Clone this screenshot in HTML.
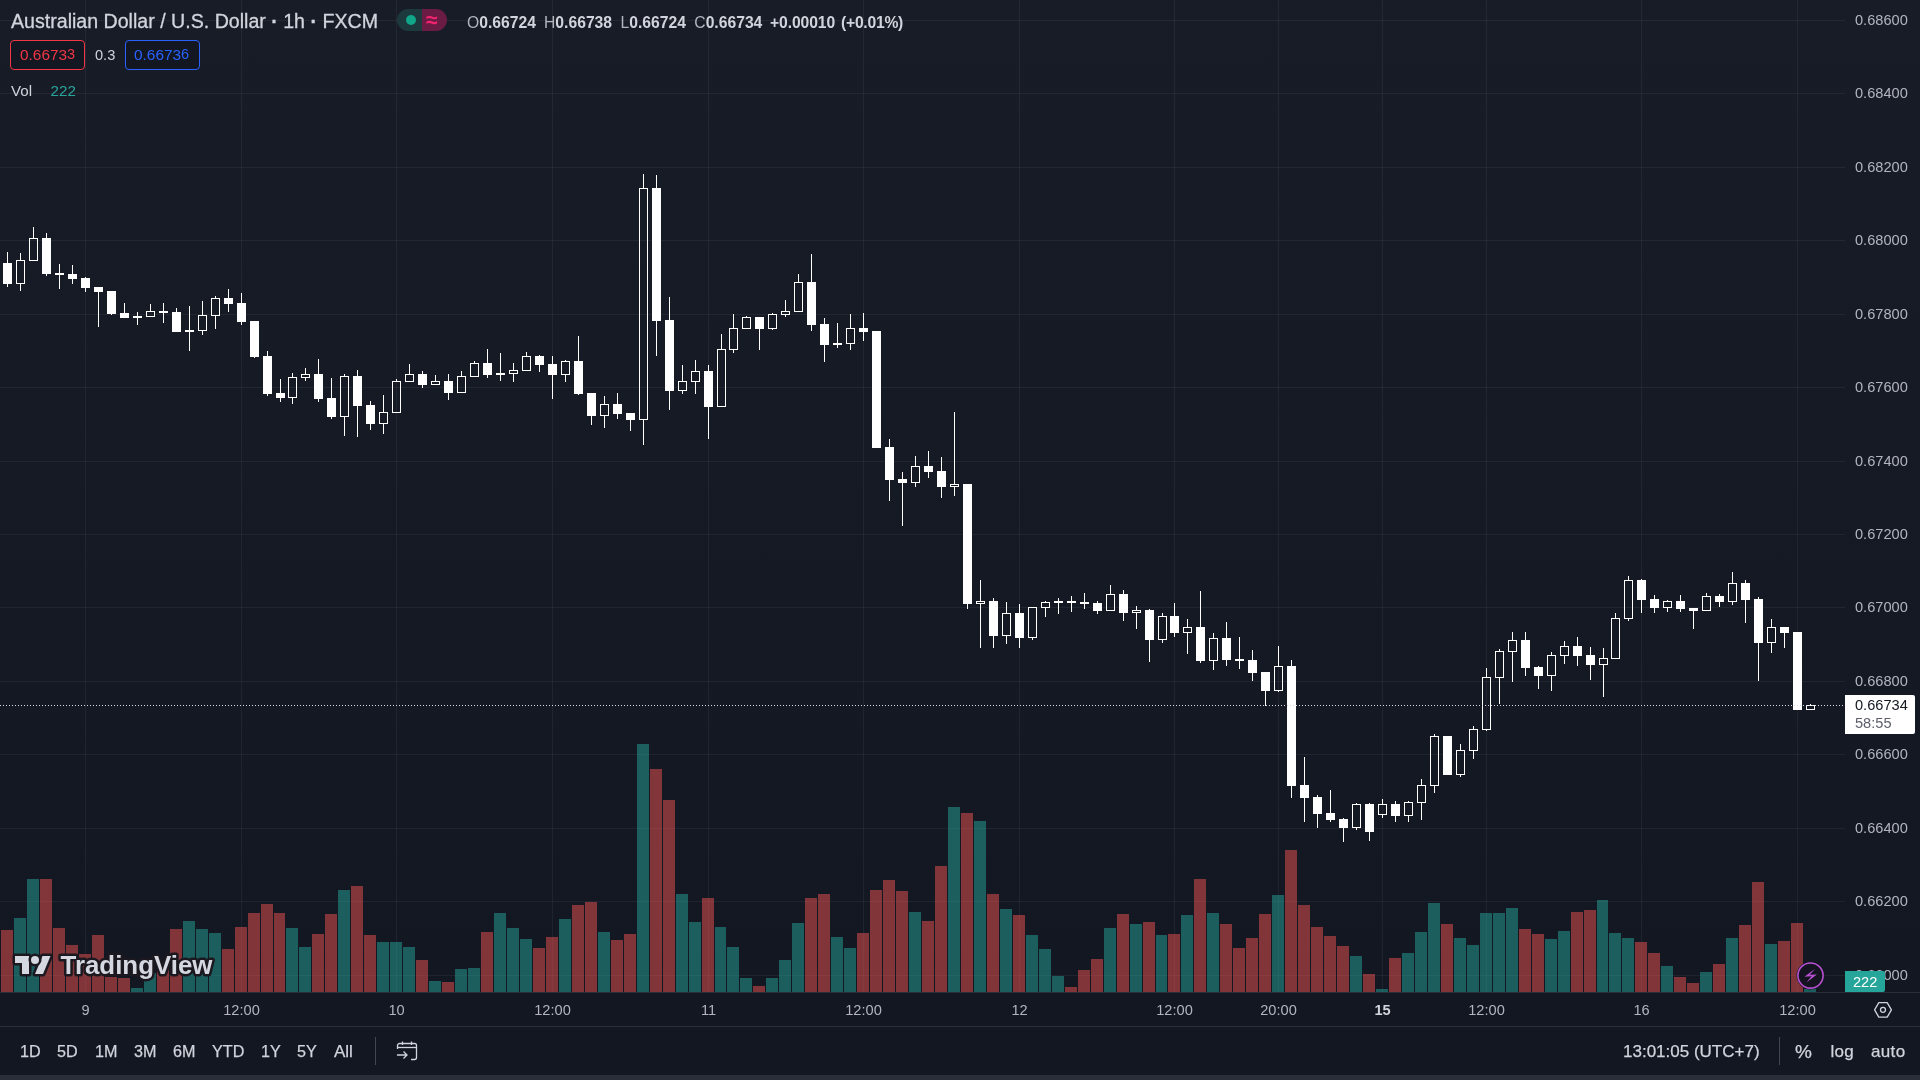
<!DOCTYPE html>
<html>
<head>
<meta charset="utf-8">
<title>AUDUSD chart</title>
<style>
html,body{margin:0;padding:0;}
body{width:1920px;height:1080px;overflow:hidden;background:#131722;font-family:"Liberation Sans",sans-serif;position:relative;color:#d1d4dc;}
.abs{position:absolute;white-space:nowrap;}
#pane{position:absolute;left:0;top:0;width:1920px;height:992px;background:linear-gradient(#181c27,#131722);}
#chart{position:absolute;left:0;top:0;}
.pl{position:absolute;left:1855px;font-size:14.6px;color:#b2b5be;line-height:16px;height:16px;}
.tl{position:absolute;top:1002px;font-size:14.6px;color:#b2b5be;line-height:16px;height:16px;transform:translateX(-50%);}
.tb{position:absolute;top:1042px;font-size:17px;color:#d1d4dc;line-height:20px;height:20px;-webkit-text-stroke:0.25px #d1d4dc;}
.tbl{transform:scaleX(0.95);transform-origin:left center;}
.oh{top:14px;font-size:15.7px;line-height:18px;color:#d1d4dc;font-weight:bold;}
.ol{color:#b2b5be;font-weight:normal;}
.sup{font-size:14.5px;position:relative;top:-1px;}
</style>
</head>
<body>
<div id="root" style="position:absolute;left:0;top:0;width:1920px;height:1080px;will-change:transform;">
<div id="pane">
<svg id="chart" width="1920" height="992" viewBox="0 0 1920 992" shape-rendering="crispEdges">
<rect x="0" y="20" width="1845" height="1" fill="#f0f3fa" fill-opacity="0.06"/>
<rect x="0" y="93" width="1845" height="1" fill="#f0f3fa" fill-opacity="0.06"/>
<rect x="0" y="167" width="1845" height="1" fill="#f0f3fa" fill-opacity="0.06"/>
<rect x="0" y="240" width="1845" height="1" fill="#f0f3fa" fill-opacity="0.06"/>
<rect x="0" y="314" width="1845" height="1" fill="#f0f3fa" fill-opacity="0.06"/>
<rect x="0" y="387" width="1845" height="1" fill="#f0f3fa" fill-opacity="0.06"/>
<rect x="0" y="461" width="1845" height="1" fill="#f0f3fa" fill-opacity="0.06"/>
<rect x="0" y="534" width="1845" height="1" fill="#f0f3fa" fill-opacity="0.06"/>
<rect x="0" y="607" width="1845" height="1" fill="#f0f3fa" fill-opacity="0.06"/>
<rect x="0" y="681" width="1845" height="1" fill="#f0f3fa" fill-opacity="0.06"/>
<rect x="0" y="754" width="1845" height="1" fill="#f0f3fa" fill-opacity="0.06"/>
<rect x="0" y="828" width="1845" height="1" fill="#f0f3fa" fill-opacity="0.06"/>
<rect x="0" y="901" width="1845" height="1" fill="#f0f3fa" fill-opacity="0.06"/>
<rect x="0" y="975" width="1845" height="1" fill="#f0f3fa" fill-opacity="0.06"/>
<rect x="85" y="0" width="1" height="992" fill="#f0f3fa" fill-opacity="0.06"/>
<rect x="241" y="0" width="1" height="992" fill="#f0f3fa" fill-opacity="0.06"/>
<rect x="396" y="0" width="1" height="992" fill="#f0f3fa" fill-opacity="0.06"/>
<rect x="552" y="0" width="1" height="992" fill="#f0f3fa" fill-opacity="0.06"/>
<rect x="708" y="0" width="1" height="992" fill="#f0f3fa" fill-opacity="0.06"/>
<rect x="863" y="0" width="1" height="992" fill="#f0f3fa" fill-opacity="0.06"/>
<rect x="1019" y="0" width="1" height="992" fill="#f0f3fa" fill-opacity="0.06"/>
<rect x="1174" y="0" width="1" height="992" fill="#f0f3fa" fill-opacity="0.06"/>
<rect x="1278" y="0" width="1" height="992" fill="#f0f3fa" fill-opacity="0.06"/>
<rect x="1382" y="0" width="1" height="992" fill="#f0f3fa" fill-opacity="0.06"/>
<rect x="1486" y="0" width="1" height="992" fill="#f0f3fa" fill-opacity="0.06"/>
<rect x="1641" y="0" width="1" height="992" fill="#f0f3fa" fill-opacity="0.06"/>
<rect x="1797" y="0" width="1" height="992" fill="#f0f3fa" fill-opacity="0.06"/>
<rect x="1" y="930" width="12" height="62" fill="rgba(239,83,80,0.5)"/>
<rect x="14" y="918" width="12" height="74" fill="rgba(38,166,154,0.5)"/>
<rect x="27" y="879" width="12" height="113" fill="rgba(38,166,154,0.5)"/>
<rect x="40" y="879" width="12" height="113" fill="rgba(239,83,80,0.5)"/>
<rect x="53" y="928" width="12" height="64" fill="rgba(239,83,80,0.5)"/>
<rect x="66" y="945" width="12" height="47" fill="rgba(239,83,80,0.5)"/>
<rect x="79" y="954" width="12" height="38" fill="rgba(239,83,80,0.5)"/>
<rect x="92" y="935" width="12" height="57" fill="rgba(239,83,80,0.5)"/>
<rect x="105" y="977" width="12" height="15" fill="rgba(239,83,80,0.5)"/>
<rect x="118" y="978" width="12" height="14" fill="rgba(239,83,80,0.5)"/>
<rect x="131" y="988" width="12" height="4" fill="rgba(38,166,154,0.5)"/>
<rect x="144" y="973" width="12" height="19" fill="rgba(38,166,154,0.5)"/>
<rect x="157" y="965" width="12" height="27" fill="rgba(239,83,80,0.5)"/>
<rect x="170" y="929" width="12" height="63" fill="rgba(239,83,80,0.5)"/>
<rect x="183" y="921" width="12" height="71" fill="rgba(38,166,154,0.5)"/>
<rect x="196" y="929" width="12" height="63" fill="rgba(38,166,154,0.5)"/>
<rect x="209" y="933" width="12" height="59" fill="rgba(38,166,154,0.5)"/>
<rect x="222" y="949" width="12" height="43" fill="rgba(239,83,80,0.5)"/>
<rect x="235" y="927" width="12" height="65" fill="rgba(239,83,80,0.5)"/>
<rect x="248" y="913" width="12" height="79" fill="rgba(239,83,80,0.5)"/>
<rect x="261" y="904" width="12" height="88" fill="rgba(239,83,80,0.5)"/>
<rect x="274" y="913" width="11" height="79" fill="rgba(239,83,80,0.5)"/>
<rect x="286" y="928" width="12" height="64" fill="rgba(38,166,154,0.5)"/>
<rect x="299" y="947" width="12" height="45" fill="rgba(38,166,154,0.5)"/>
<rect x="312" y="934" width="12" height="58" fill="rgba(239,83,80,0.5)"/>
<rect x="325" y="914" width="12" height="78" fill="rgba(239,83,80,0.5)"/>
<rect x="338" y="890" width="12" height="102" fill="rgba(38,166,154,0.5)"/>
<rect x="351" y="886" width="12" height="106" fill="rgba(239,83,80,0.5)"/>
<rect x="364" y="935" width="12" height="57" fill="rgba(239,83,80,0.5)"/>
<rect x="377" y="942" width="12" height="50" fill="rgba(38,166,154,0.5)"/>
<rect x="390" y="942" width="12" height="50" fill="rgba(38,166,154,0.5)"/>
<rect x="403" y="947" width="12" height="45" fill="rgba(38,166,154,0.5)"/>
<rect x="416" y="960" width="12" height="32" fill="rgba(239,83,80,0.5)"/>
<rect x="429" y="981" width="12" height="11" fill="rgba(38,166,154,0.5)"/>
<rect x="442" y="982" width="12" height="10" fill="rgba(239,83,80,0.5)"/>
<rect x="455" y="969" width="12" height="23" fill="rgba(38,166,154,0.5)"/>
<rect x="468" y="968" width="12" height="24" fill="rgba(38,166,154,0.5)"/>
<rect x="481" y="932" width="12" height="60" fill="rgba(239,83,80,0.5)"/>
<rect x="494" y="913" width="12" height="79" fill="rgba(38,166,154,0.5)"/>
<rect x="507" y="928" width="12" height="64" fill="rgba(38,166,154,0.5)"/>
<rect x="520" y="939" width="12" height="53" fill="rgba(38,166,154,0.5)"/>
<rect x="533" y="948" width="12" height="44" fill="rgba(239,83,80,0.5)"/>
<rect x="546" y="937" width="12" height="55" fill="rgba(239,83,80,0.5)"/>
<rect x="559" y="919" width="12" height="73" fill="rgba(38,166,154,0.5)"/>
<rect x="572" y="905" width="12" height="87" fill="rgba(239,83,80,0.5)"/>
<rect x="585" y="902" width="12" height="90" fill="rgba(239,83,80,0.5)"/>
<rect x="598" y="932" width="12" height="60" fill="rgba(38,166,154,0.5)"/>
<rect x="611" y="940" width="12" height="52" fill="rgba(239,83,80,0.5)"/>
<rect x="624" y="934" width="12" height="58" fill="rgba(239,83,80,0.5)"/>
<rect x="637" y="744" width="12" height="248" fill="rgba(38,166,154,0.5)"/>
<rect x="650" y="769" width="12" height="223" fill="rgba(239,83,80,0.5)"/>
<rect x="663" y="800" width="12" height="192" fill="rgba(239,83,80,0.5)"/>
<rect x="676" y="894" width="12" height="98" fill="rgba(38,166,154,0.5)"/>
<rect x="689" y="922" width="12" height="70" fill="rgba(38,166,154,0.5)"/>
<rect x="702" y="898" width="12" height="94" fill="rgba(239,83,80,0.5)"/>
<rect x="715" y="927" width="11" height="65" fill="rgba(38,166,154,0.5)"/>
<rect x="727" y="947" width="12" height="45" fill="rgba(38,166,154,0.5)"/>
<rect x="740" y="978" width="12" height="14" fill="rgba(38,166,154,0.5)"/>
<rect x="753" y="986" width="12" height="6" fill="rgba(239,83,80,0.5)"/>
<rect x="766" y="978" width="12" height="14" fill="rgba(38,166,154,0.5)"/>
<rect x="779" y="960" width="12" height="32" fill="rgba(38,166,154,0.5)"/>
<rect x="792" y="923" width="12" height="69" fill="rgba(38,166,154,0.5)"/>
<rect x="805" y="898" width="12" height="94" fill="rgba(239,83,80,0.5)"/>
<rect x="818" y="894" width="12" height="98" fill="rgba(239,83,80,0.5)"/>
<rect x="831" y="937" width="12" height="55" fill="rgba(38,166,154,0.5)"/>
<rect x="844" y="948" width="12" height="44" fill="rgba(38,166,154,0.5)"/>
<rect x="857" y="933" width="12" height="59" fill="rgba(239,83,80,0.5)"/>
<rect x="870" y="890" width="12" height="102" fill="rgba(239,83,80,0.5)"/>
<rect x="883" y="880" width="12" height="112" fill="rgba(239,83,80,0.5)"/>
<rect x="896" y="891" width="12" height="101" fill="rgba(239,83,80,0.5)"/>
<rect x="909" y="912" width="12" height="80" fill="rgba(38,166,154,0.5)"/>
<rect x="922" y="921" width="12" height="71" fill="rgba(239,83,80,0.5)"/>
<rect x="935" y="866" width="12" height="126" fill="rgba(239,83,80,0.5)"/>
<rect x="948" y="807" width="12" height="185" fill="rgba(38,166,154,0.5)"/>
<rect x="961" y="813" width="12" height="179" fill="rgba(239,83,80,0.5)"/>
<rect x="974" y="821" width="12" height="171" fill="rgba(38,166,154,0.5)"/>
<rect x="987" y="894" width="12" height="98" fill="rgba(239,83,80,0.5)"/>
<rect x="1000" y="909" width="12" height="83" fill="rgba(38,166,154,0.5)"/>
<rect x="1013" y="915" width="12" height="77" fill="rgba(239,83,80,0.5)"/>
<rect x="1026" y="935" width="12" height="57" fill="rgba(38,166,154,0.5)"/>
<rect x="1039" y="949" width="12" height="43" fill="rgba(38,166,154,0.5)"/>
<rect x="1052" y="976" width="12" height="16" fill="rgba(38,166,154,0.5)"/>
<rect x="1065" y="987" width="12" height="5" fill="rgba(239,83,80,0.5)"/>
<rect x="1078" y="970" width="12" height="22" fill="rgba(239,83,80,0.5)"/>
<rect x="1091" y="959" width="12" height="33" fill="rgba(239,83,80,0.5)"/>
<rect x="1104" y="928" width="12" height="64" fill="rgba(38,166,154,0.5)"/>
<rect x="1117" y="914" width="12" height="78" fill="rgba(239,83,80,0.5)"/>
<rect x="1130" y="924" width="12" height="68" fill="rgba(38,166,154,0.5)"/>
<rect x="1143" y="922" width="12" height="70" fill="rgba(239,83,80,0.5)"/>
<rect x="1156" y="935" width="11" height="57" fill="rgba(38,166,154,0.5)"/>
<rect x="1168" y="934" width="12" height="58" fill="rgba(239,83,80,0.5)"/>
<rect x="1181" y="915" width="12" height="77" fill="rgba(38,166,154,0.5)"/>
<rect x="1194" y="879" width="12" height="113" fill="rgba(239,83,80,0.5)"/>
<rect x="1207" y="913" width="12" height="79" fill="rgba(38,166,154,0.5)"/>
<rect x="1220" y="924" width="12" height="68" fill="rgba(239,83,80,0.5)"/>
<rect x="1233" y="948" width="12" height="44" fill="rgba(239,83,80,0.5)"/>
<rect x="1246" y="938" width="12" height="54" fill="rgba(239,83,80,0.5)"/>
<rect x="1259" y="914" width="12" height="78" fill="rgba(239,83,80,0.5)"/>
<rect x="1272" y="895" width="12" height="97" fill="rgba(38,166,154,0.5)"/>
<rect x="1285" y="850" width="12" height="142" fill="rgba(239,83,80,0.5)"/>
<rect x="1298" y="905" width="12" height="87" fill="rgba(239,83,80,0.5)"/>
<rect x="1311" y="927" width="12" height="65" fill="rgba(239,83,80,0.5)"/>
<rect x="1324" y="936" width="12" height="56" fill="rgba(239,83,80,0.5)"/>
<rect x="1337" y="946" width="12" height="46" fill="rgba(239,83,80,0.5)"/>
<rect x="1350" y="956" width="12" height="36" fill="rgba(38,166,154,0.5)"/>
<rect x="1363" y="974" width="12" height="18" fill="rgba(239,83,80,0.5)"/>
<rect x="1376" y="989" width="12" height="3" fill="rgba(38,166,154,0.5)"/>
<rect x="1389" y="958" width="12" height="34" fill="rgba(239,83,80,0.5)"/>
<rect x="1402" y="953" width="12" height="39" fill="rgba(38,166,154,0.5)"/>
<rect x="1415" y="932" width="12" height="60" fill="rgba(38,166,154,0.5)"/>
<rect x="1428" y="903" width="12" height="89" fill="rgba(38,166,154,0.5)"/>
<rect x="1441" y="924" width="12" height="68" fill="rgba(239,83,80,0.5)"/>
<rect x="1454" y="938" width="12" height="54" fill="rgba(38,166,154,0.5)"/>
<rect x="1467" y="945" width="12" height="47" fill="rgba(38,166,154,0.5)"/>
<rect x="1480" y="913" width="12" height="79" fill="rgba(38,166,154,0.5)"/>
<rect x="1493" y="913" width="12" height="79" fill="rgba(38,166,154,0.5)"/>
<rect x="1506" y="908" width="12" height="84" fill="rgba(38,166,154,0.5)"/>
<rect x="1519" y="929" width="12" height="63" fill="rgba(239,83,80,0.5)"/>
<rect x="1532" y="934" width="12" height="58" fill="rgba(239,83,80,0.5)"/>
<rect x="1545" y="939" width="12" height="53" fill="rgba(38,166,154,0.5)"/>
<rect x="1558" y="931" width="12" height="61" fill="rgba(38,166,154,0.5)"/>
<rect x="1571" y="912" width="12" height="80" fill="rgba(239,83,80,0.5)"/>
<rect x="1584" y="910" width="12" height="82" fill="rgba(239,83,80,0.5)"/>
<rect x="1597" y="900" width="11" height="92" fill="rgba(38,166,154,0.5)"/>
<rect x="1609" y="933" width="12" height="59" fill="rgba(38,166,154,0.5)"/>
<rect x="1622" y="938" width="12" height="54" fill="rgba(38,166,154,0.5)"/>
<rect x="1635" y="942" width="12" height="50" fill="rgba(239,83,80,0.5)"/>
<rect x="1648" y="953" width="12" height="39" fill="rgba(239,83,80,0.5)"/>
<rect x="1661" y="966" width="12" height="26" fill="rgba(38,166,154,0.5)"/>
<rect x="1674" y="977" width="12" height="15" fill="rgba(239,83,80,0.5)"/>
<rect x="1687" y="983" width="12" height="9" fill="rgba(239,83,80,0.5)"/>
<rect x="1700" y="972" width="12" height="20" fill="rgba(38,166,154,0.5)"/>
<rect x="1713" y="964" width="12" height="28" fill="rgba(239,83,80,0.5)"/>
<rect x="1726" y="938" width="12" height="54" fill="rgba(38,166,154,0.5)"/>
<rect x="1739" y="925" width="12" height="67" fill="rgba(239,83,80,0.5)"/>
<rect x="1752" y="882" width="12" height="110" fill="rgba(239,83,80,0.5)"/>
<rect x="1765" y="944" width="12" height="48" fill="rgba(38,166,154,0.5)"/>
<rect x="1778" y="941" width="12" height="51" fill="rgba(239,83,80,0.5)"/>
<rect x="1791" y="923" width="12" height="69" fill="rgba(239,83,80,0.5)"/>
<rect x="1804" y="989" width="12" height="3" fill="rgba(38,166,154,0.5)"/>
<rect x="7" y="252" width="1" height="35" fill="#fff"/>
<rect x="3" y="263" width="9" height="21" fill="#fff"/>
<rect x="20" y="253" width="1" height="7" fill="#fff"/>
<rect x="20" y="284" width="1" height="7" fill="#fff"/>
<rect x="16.5" y="260.5" width="8" height="23" fill="none" stroke="#fff" stroke-width="1"/>
<rect x="33" y="227" width="1" height="11" fill="#fff"/>
<rect x="29.5" y="238.5" width="8" height="22" fill="none" stroke="#fff" stroke-width="1"/>
<rect x="46" y="233" width="1" height="43" fill="#fff"/>
<rect x="42" y="238" width="9" height="36" fill="#fff"/>
<rect x="59" y="264" width="1" height="25" fill="#fff"/>
<rect x="55" y="273" width="9" height="2" fill="#fff"/>
<rect x="72" y="265" width="1" height="19" fill="#fff"/>
<rect x="68" y="274" width="9" height="5" fill="#fff"/>
<rect x="85" y="277" width="1" height="15" fill="#fff"/>
<rect x="81" y="278" width="9" height="10" fill="#fff"/>
<rect x="98" y="287" width="1" height="40" fill="#fff"/>
<rect x="94" y="287" width="9" height="5" fill="#fff"/>
<rect x="111" y="291" width="1" height="24" fill="#fff"/>
<rect x="107" y="291" width="9" height="23" fill="#fff"/>
<rect x="124" y="303" width="1" height="15" fill="#fff"/>
<rect x="120" y="313" width="9" height="5" fill="#fff"/>
<rect x="137" y="312" width="1" height="13" fill="#fff"/>
<rect x="133" y="316" width="9" height="2" fill="#fff"/>
<rect x="150" y="304" width="1" height="7" fill="#fff"/>
<rect x="146.5" y="311.5" width="8" height="5" fill="none" stroke="#fff" stroke-width="1"/>
<rect x="163" y="303" width="1" height="20" fill="#fff"/>
<rect x="159" y="311" width="9" height="2" fill="#fff"/>
<rect x="176" y="308" width="1" height="24" fill="#fff"/>
<rect x="172" y="312" width="9" height="20" fill="#fff"/>
<rect x="189" y="306" width="1" height="45" fill="#fff"/>
<rect x="185" y="330" width="9" height="2" fill="#fff"/>
<rect x="202" y="301" width="1" height="14" fill="#fff"/>
<rect x="202" y="331" width="1" height="4" fill="#fff"/>
<rect x="198.5" y="315.5" width="8" height="15" fill="none" stroke="#fff" stroke-width="1"/>
<rect x="215" y="296" width="1" height="2" fill="#fff"/>
<rect x="215" y="316" width="1" height="13" fill="#fff"/>
<rect x="211.5" y="298.5" width="8" height="17" fill="none" stroke="#fff" stroke-width="1"/>
<rect x="228" y="289" width="1" height="23" fill="#fff"/>
<rect x="224" y="298" width="9" height="6" fill="#fff"/>
<rect x="241" y="293" width="1" height="32" fill="#fff"/>
<rect x="237" y="303" width="9" height="19" fill="#fff"/>
<rect x="254" y="321" width="1" height="37" fill="#fff"/>
<rect x="250" y="321" width="9" height="36" fill="#fff"/>
<rect x="267" y="351" width="1" height="45" fill="#fff"/>
<rect x="263" y="356" width="9" height="38" fill="#fff"/>
<rect x="280" y="379" width="1" height="23" fill="#fff"/>
<rect x="276" y="393" width="9" height="5" fill="#fff"/>
<rect x="292" y="373" width="1" height="4" fill="#fff"/>
<rect x="292" y="398" width="1" height="6" fill="#fff"/>
<rect x="288.5" y="377.5" width="8" height="20" fill="none" stroke="#fff" stroke-width="1"/>
<rect x="305" y="368" width="1" height="6" fill="#fff"/>
<rect x="305" y="378" width="1" height="3" fill="#fff"/>
<rect x="301.5" y="374.5" width="8" height="3" fill="none" stroke="#fff" stroke-width="1"/>
<rect x="318" y="359" width="1" height="43" fill="#fff"/>
<rect x="314" y="374" width="9" height="25" fill="#fff"/>
<rect x="331" y="378" width="1" height="41" fill="#fff"/>
<rect x="327" y="398" width="9" height="19" fill="#fff"/>
<rect x="344" y="374" width="1" height="2" fill="#fff"/>
<rect x="344" y="417" width="1" height="19" fill="#fff"/>
<rect x="340.5" y="376.5" width="8" height="40" fill="none" stroke="#fff" stroke-width="1"/>
<rect x="357" y="370" width="1" height="67" fill="#fff"/>
<rect x="353" y="376" width="9" height="30" fill="#fff"/>
<rect x="370" y="401" width="1" height="29" fill="#fff"/>
<rect x="366" y="405" width="9" height="19" fill="#fff"/>
<rect x="383" y="395" width="1" height="17" fill="#fff"/>
<rect x="383" y="424" width="1" height="10" fill="#fff"/>
<rect x="379.5" y="412.5" width="8" height="11" fill="none" stroke="#fff" stroke-width="1"/>
<rect x="396" y="379" width="1" height="2" fill="#fff"/>
<rect x="392.5" y="381.5" width="8" height="31" fill="none" stroke="#fff" stroke-width="1"/>
<rect x="409" y="364" width="1" height="10" fill="#fff"/>
<rect x="405.5" y="374.5" width="8" height="7" fill="none" stroke="#fff" stroke-width="1"/>
<rect x="422" y="371" width="1" height="17" fill="#fff"/>
<rect x="418" y="374" width="9" height="11" fill="#fff"/>
<rect x="435" y="375" width="1" height="6" fill="#fff"/>
<rect x="431.5" y="381.5" width="8" height="3" fill="none" stroke="#fff" stroke-width="1"/>
<rect x="448" y="374" width="1" height="26" fill="#fff"/>
<rect x="444" y="381" width="9" height="12" fill="#fff"/>
<rect x="461" y="371" width="1" height="5" fill="#fff"/>
<rect x="457.5" y="376.5" width="8" height="16" fill="none" stroke="#fff" stroke-width="1"/>
<rect x="474" y="361" width="1" height="2" fill="#fff"/>
<rect x="470.5" y="363.5" width="8" height="13" fill="none" stroke="#fff" stroke-width="1"/>
<rect x="487" y="349" width="1" height="29" fill="#fff"/>
<rect x="483" y="363" width="9" height="12" fill="#fff"/>
<rect x="500" y="353" width="1" height="28" fill="#fff"/>
<rect x="496" y="373" width="9" height="2" fill="#fff"/>
<rect x="513" y="363" width="1" height="7" fill="#fff"/>
<rect x="513" y="374" width="1" height="8" fill="#fff"/>
<rect x="509.5" y="370.5" width="8" height="3" fill="none" stroke="#fff" stroke-width="1"/>
<rect x="526" y="352" width="1" height="4" fill="#fff"/>
<rect x="522.5" y="356.5" width="8" height="14" fill="none" stroke="#fff" stroke-width="1"/>
<rect x="539" y="355" width="1" height="17" fill="#fff"/>
<rect x="535" y="356" width="9" height="9" fill="#fff"/>
<rect x="552" y="356" width="1" height="43" fill="#fff"/>
<rect x="548" y="364" width="9" height="11" fill="#fff"/>
<rect x="565" y="360" width="1" height="1" fill="#fff"/>
<rect x="565" y="375" width="1" height="7" fill="#fff"/>
<rect x="561.5" y="361.5" width="8" height="13" fill="none" stroke="#fff" stroke-width="1"/>
<rect x="578" y="336" width="1" height="59" fill="#fff"/>
<rect x="574" y="361" width="9" height="33" fill="#fff"/>
<rect x="591" y="393" width="1" height="32" fill="#fff"/>
<rect x="587" y="393" width="9" height="23" fill="#fff"/>
<rect x="604" y="396" width="1" height="8" fill="#fff"/>
<rect x="604" y="416" width="1" height="12" fill="#fff"/>
<rect x="600.5" y="404.5" width="8" height="11" fill="none" stroke="#fff" stroke-width="1"/>
<rect x="617" y="393" width="1" height="26" fill="#fff"/>
<rect x="613" y="404" width="9" height="10" fill="#fff"/>
<rect x="630" y="413" width="1" height="18" fill="#fff"/>
<rect x="626" y="413" width="9" height="7" fill="#fff"/>
<rect x="643" y="174" width="1" height="14" fill="#fff"/>
<rect x="643" y="420" width="1" height="25" fill="#fff"/>
<rect x="639.5" y="188.5" width="8" height="231" fill="none" stroke="#fff" stroke-width="1"/>
<rect x="656" y="175" width="1" height="181" fill="#fff"/>
<rect x="652" y="188" width="9" height="133" fill="#fff"/>
<rect x="669" y="297" width="1" height="113" fill="#fff"/>
<rect x="665" y="320" width="9" height="71" fill="#fff"/>
<rect x="682" y="365" width="1" height="16" fill="#fff"/>
<rect x="682" y="391" width="1" height="3" fill="#fff"/>
<rect x="678.5" y="381.5" width="8" height="9" fill="none" stroke="#fff" stroke-width="1"/>
<rect x="695" y="360" width="1" height="11" fill="#fff"/>
<rect x="695" y="382" width="1" height="12" fill="#fff"/>
<rect x="691.5" y="371.5" width="8" height="10" fill="none" stroke="#fff" stroke-width="1"/>
<rect x="708" y="365" width="1" height="74" fill="#fff"/>
<rect x="704" y="371" width="9" height="36" fill="#fff"/>
<rect x="721" y="334" width="1" height="15" fill="#fff"/>
<rect x="717.5" y="349.5" width="8" height="57" fill="none" stroke="#fff" stroke-width="1"/>
<rect x="733" y="314" width="1" height="14" fill="#fff"/>
<rect x="733" y="350" width="1" height="3" fill="#fff"/>
<rect x="729.5" y="328.5" width="8" height="21" fill="none" stroke="#fff" stroke-width="1"/>
<rect x="746" y="316" width="1" height="1" fill="#fff"/>
<rect x="742.5" y="317.5" width="8" height="11" fill="none" stroke="#fff" stroke-width="1"/>
<rect x="759" y="317" width="1" height="33" fill="#fff"/>
<rect x="755" y="317" width="9" height="12" fill="#fff"/>
<rect x="772" y="313" width="1" height="1" fill="#fff"/>
<rect x="772" y="329" width="1" height="1" fill="#fff"/>
<rect x="768.5" y="314.5" width="8" height="14" fill="none" stroke="#fff" stroke-width="1"/>
<rect x="785" y="300" width="1" height="11" fill="#fff"/>
<rect x="785" y="315" width="1" height="2" fill="#fff"/>
<rect x="781.5" y="311.5" width="8" height="3" fill="none" stroke="#fff" stroke-width="1"/>
<rect x="798" y="274" width="1" height="8" fill="#fff"/>
<rect x="794.5" y="282.5" width="8" height="29" fill="none" stroke="#fff" stroke-width="1"/>
<rect x="811" y="254" width="1" height="77" fill="#fff"/>
<rect x="807" y="282" width="9" height="43" fill="#fff"/>
<rect x="824" y="318" width="1" height="44" fill="#fff"/>
<rect x="820" y="324" width="9" height="21" fill="#fff"/>
<rect x="837" y="323" width="1" height="25" fill="#fff"/>
<rect x="833" y="343" width="9" height="2" fill="#fff"/>
<rect x="850" y="314" width="1" height="14" fill="#fff"/>
<rect x="850" y="344" width="1" height="6" fill="#fff"/>
<rect x="846.5" y="328.5" width="8" height="15" fill="none" stroke="#fff" stroke-width="1"/>
<rect x="863" y="313" width="1" height="28" fill="#fff"/>
<rect x="859" y="328" width="9" height="4" fill="#fff"/>
<rect x="876" y="331" width="1" height="117" fill="#fff"/>
<rect x="872" y="331" width="9" height="117" fill="#fff"/>
<rect x="889" y="439" width="1" height="62" fill="#fff"/>
<rect x="885" y="447" width="9" height="33" fill="#fff"/>
<rect x="902" y="472" width="1" height="54" fill="#fff"/>
<rect x="898" y="479" width="9" height="4" fill="#fff"/>
<rect x="915" y="456" width="1" height="10" fill="#fff"/>
<rect x="915" y="483" width="1" height="4" fill="#fff"/>
<rect x="911.5" y="466.5" width="8" height="16" fill="none" stroke="#fff" stroke-width="1"/>
<rect x="928" y="451" width="1" height="27" fill="#fff"/>
<rect x="924" y="466" width="9" height="6" fill="#fff"/>
<rect x="941" y="457" width="1" height="41" fill="#fff"/>
<rect x="937" y="471" width="9" height="16" fill="#fff"/>
<rect x="954" y="412" width="1" height="72" fill="#fff"/>
<rect x="954" y="487" width="1" height="9" fill="#fff"/>
<rect x="950.5" y="484.5" width="8" height="2" fill="none" stroke="#fff" stroke-width="1"/>
<rect x="967" y="484" width="1" height="125" fill="#fff"/>
<rect x="963" y="484" width="9" height="120" fill="#fff"/>
<rect x="980" y="580" width="1" height="21" fill="#fff"/>
<rect x="980" y="604" width="1" height="44" fill="#fff"/>
<rect x="976.5" y="601.5" width="8" height="2" fill="none" stroke="#fff" stroke-width="1"/>
<rect x="993" y="598" width="1" height="50" fill="#fff"/>
<rect x="989" y="601" width="9" height="35" fill="#fff"/>
<rect x="1006" y="602" width="1" height="11" fill="#fff"/>
<rect x="1006" y="636" width="1" height="8" fill="#fff"/>
<rect x="1002.5" y="613.5" width="8" height="22" fill="none" stroke="#fff" stroke-width="1"/>
<rect x="1019" y="604" width="1" height="44" fill="#fff"/>
<rect x="1015" y="613" width="9" height="25" fill="#fff"/>
<rect x="1032" y="638" width="1" height="2" fill="#fff"/>
<rect x="1028.5" y="607.5" width="8" height="30" fill="none" stroke="#fff" stroke-width="1"/>
<rect x="1045" y="601" width="1" height="1" fill="#fff"/>
<rect x="1045" y="608" width="1" height="9" fill="#fff"/>
<rect x="1041.5" y="602.5" width="8" height="5" fill="none" stroke="#fff" stroke-width="1"/>
<rect x="1058" y="598" width="1" height="16" fill="#fff"/>
<rect x="1054" y="601" width="9" height="2" fill="#fff"/>
<rect x="1071" y="596" width="1" height="16" fill="#fff"/>
<rect x="1067" y="601" width="9" height="2" fill="#fff"/>
<rect x="1084" y="593" width="1" height="16" fill="#fff"/>
<rect x="1080" y="602" width="9" height="2" fill="#fff"/>
<rect x="1097" y="601" width="1" height="13" fill="#fff"/>
<rect x="1093" y="603" width="9" height="8" fill="#fff"/>
<rect x="1110" y="585" width="1" height="9" fill="#fff"/>
<rect x="1106.5" y="594.5" width="8" height="16" fill="none" stroke="#fff" stroke-width="1"/>
<rect x="1123" y="590" width="1" height="31" fill="#fff"/>
<rect x="1119" y="594" width="9" height="19" fill="#fff"/>
<rect x="1136" y="606" width="1" height="4" fill="#fff"/>
<rect x="1136" y="613" width="1" height="16" fill="#fff"/>
<rect x="1132.5" y="610.5" width="8" height="2" fill="none" stroke="#fff" stroke-width="1"/>
<rect x="1149" y="609" width="1" height="53" fill="#fff"/>
<rect x="1145" y="610" width="9" height="30" fill="#fff"/>
<rect x="1162" y="613" width="1" height="3" fill="#fff"/>
<rect x="1162" y="640" width="1" height="3" fill="#fff"/>
<rect x="1158.5" y="616.5" width="8" height="23" fill="none" stroke="#fff" stroke-width="1"/>
<rect x="1174" y="603" width="1" height="34" fill="#fff"/>
<rect x="1170" y="616" width="9" height="17" fill="#fff"/>
<rect x="1187" y="619" width="1" height="8" fill="#fff"/>
<rect x="1187" y="633" width="1" height="21" fill="#fff"/>
<rect x="1183.5" y="627.5" width="8" height="5" fill="none" stroke="#fff" stroke-width="1"/>
<rect x="1200" y="591" width="1" height="72" fill="#fff"/>
<rect x="1196" y="627" width="9" height="34" fill="#fff"/>
<rect x="1213" y="633" width="1" height="5" fill="#fff"/>
<rect x="1213" y="661" width="1" height="9" fill="#fff"/>
<rect x="1209.5" y="638.5" width="8" height="22" fill="none" stroke="#fff" stroke-width="1"/>
<rect x="1226" y="622" width="1" height="44" fill="#fff"/>
<rect x="1222" y="638" width="9" height="22" fill="#fff"/>
<rect x="1239" y="637" width="1" height="32" fill="#fff"/>
<rect x="1235" y="659" width="9" height="2" fill="#fff"/>
<rect x="1252" y="650" width="1" height="31" fill="#fff"/>
<rect x="1248" y="660" width="9" height="13" fill="#fff"/>
<rect x="1265" y="672" width="1" height="34" fill="#fff"/>
<rect x="1261" y="672" width="9" height="19" fill="#fff"/>
<rect x="1278" y="646" width="1" height="20" fill="#fff"/>
<rect x="1278" y="691" width="1" height="1" fill="#fff"/>
<rect x="1274.5" y="666.5" width="8" height="24" fill="none" stroke="#fff" stroke-width="1"/>
<rect x="1291" y="660" width="1" height="138" fill="#fff"/>
<rect x="1287" y="666" width="9" height="120" fill="#fff"/>
<rect x="1304" y="757" width="1" height="65" fill="#fff"/>
<rect x="1300" y="785" width="9" height="13" fill="#fff"/>
<rect x="1317" y="795" width="1" height="33" fill="#fff"/>
<rect x="1313" y="797" width="9" height="17" fill="#fff"/>
<rect x="1330" y="790" width="1" height="32" fill="#fff"/>
<rect x="1326" y="813" width="9" height="7" fill="#fff"/>
<rect x="1343" y="818" width="1" height="24" fill="#fff"/>
<rect x="1339" y="819" width="9" height="9" fill="#fff"/>
<rect x="1356" y="803" width="1" height="1" fill="#fff"/>
<rect x="1356" y="828" width="1" height="2" fill="#fff"/>
<rect x="1352.5" y="804.5" width="8" height="23" fill="none" stroke="#fff" stroke-width="1"/>
<rect x="1369" y="803" width="1" height="38" fill="#fff"/>
<rect x="1365" y="804" width="9" height="28" fill="#fff"/>
<rect x="1382" y="799" width="1" height="5" fill="#fff"/>
<rect x="1382" y="815" width="1" height="3" fill="#fff"/>
<rect x="1378.5" y="804.5" width="8" height="10" fill="none" stroke="#fff" stroke-width="1"/>
<rect x="1395" y="801" width="1" height="21" fill="#fff"/>
<rect x="1391" y="804" width="9" height="12" fill="#fff"/>
<rect x="1408" y="801" width="1" height="1" fill="#fff"/>
<rect x="1408" y="816" width="1" height="6" fill="#fff"/>
<rect x="1404.5" y="802.5" width="8" height="13" fill="none" stroke="#fff" stroke-width="1"/>
<rect x="1421" y="779" width="1" height="6" fill="#fff"/>
<rect x="1421" y="803" width="1" height="17" fill="#fff"/>
<rect x="1417.5" y="785.5" width="8" height="17" fill="none" stroke="#fff" stroke-width="1"/>
<rect x="1434" y="734" width="1" height="2" fill="#fff"/>
<rect x="1434" y="786" width="1" height="7" fill="#fff"/>
<rect x="1430.5" y="736.5" width="8" height="49" fill="none" stroke="#fff" stroke-width="1"/>
<rect x="1447" y="736" width="1" height="39" fill="#fff"/>
<rect x="1443" y="736" width="9" height="39" fill="#fff"/>
<rect x="1460" y="744" width="1" height="6" fill="#fff"/>
<rect x="1460" y="775" width="1" height="2" fill="#fff"/>
<rect x="1456.5" y="750.5" width="8" height="24" fill="none" stroke="#fff" stroke-width="1"/>
<rect x="1473" y="726" width="1" height="3" fill="#fff"/>
<rect x="1473" y="751" width="1" height="8" fill="#fff"/>
<rect x="1469.5" y="729.5" width="8" height="21" fill="none" stroke="#fff" stroke-width="1"/>
<rect x="1486" y="668" width="1" height="9" fill="#fff"/>
<rect x="1486" y="730" width="1" height="1" fill="#fff"/>
<rect x="1482.5" y="677.5" width="8" height="52" fill="none" stroke="#fff" stroke-width="1"/>
<rect x="1499" y="649" width="1" height="2" fill="#fff"/>
<rect x="1499" y="678" width="1" height="26" fill="#fff"/>
<rect x="1495.5" y="651.5" width="8" height="26" fill="none" stroke="#fff" stroke-width="1"/>
<rect x="1512" y="632" width="1" height="8" fill="#fff"/>
<rect x="1512" y="652" width="1" height="30" fill="#fff"/>
<rect x="1508.5" y="640.5" width="8" height="11" fill="none" stroke="#fff" stroke-width="1"/>
<rect x="1525" y="632" width="1" height="44" fill="#fff"/>
<rect x="1521" y="640" width="9" height="28" fill="#fff"/>
<rect x="1538" y="666" width="1" height="23" fill="#fff"/>
<rect x="1534" y="667" width="9" height="9" fill="#fff"/>
<rect x="1551" y="652" width="1" height="3" fill="#fff"/>
<rect x="1551" y="676" width="1" height="15" fill="#fff"/>
<rect x="1547.5" y="655.5" width="8" height="20" fill="none" stroke="#fff" stroke-width="1"/>
<rect x="1564" y="641" width="1" height="5" fill="#fff"/>
<rect x="1564" y="656" width="1" height="8" fill="#fff"/>
<rect x="1560.5" y="646.5" width="8" height="9" fill="none" stroke="#fff" stroke-width="1"/>
<rect x="1577" y="637" width="1" height="29" fill="#fff"/>
<rect x="1573" y="646" width="9" height="10" fill="#fff"/>
<rect x="1590" y="647" width="1" height="33" fill="#fff"/>
<rect x="1586" y="655" width="9" height="10" fill="#fff"/>
<rect x="1603" y="648" width="1" height="10" fill="#fff"/>
<rect x="1603" y="665" width="1" height="32" fill="#fff"/>
<rect x="1599.5" y="658.5" width="8" height="6" fill="none" stroke="#fff" stroke-width="1"/>
<rect x="1615" y="613" width="1" height="5" fill="#fff"/>
<rect x="1611.5" y="618.5" width="8" height="40" fill="none" stroke="#fff" stroke-width="1"/>
<rect x="1628" y="576" width="1" height="4" fill="#fff"/>
<rect x="1628" y="619" width="1" height="2" fill="#fff"/>
<rect x="1624.5" y="580.5" width="8" height="38" fill="none" stroke="#fff" stroke-width="1"/>
<rect x="1641" y="579" width="1" height="34" fill="#fff"/>
<rect x="1637" y="580" width="9" height="20" fill="#fff"/>
<rect x="1654" y="595" width="1" height="18" fill="#fff"/>
<rect x="1650" y="599" width="9" height="9" fill="#fff"/>
<rect x="1667" y="600" width="1" height="1" fill="#fff"/>
<rect x="1667" y="608" width="1" height="4" fill="#fff"/>
<rect x="1663.5" y="601.5" width="8" height="6" fill="none" stroke="#fff" stroke-width="1"/>
<rect x="1680" y="595" width="1" height="17" fill="#fff"/>
<rect x="1676" y="601" width="9" height="8" fill="#fff"/>
<rect x="1693" y="608" width="1" height="21" fill="#fff"/>
<rect x="1689" y="608" width="9" height="3" fill="#fff"/>
<rect x="1706" y="593" width="1" height="3" fill="#fff"/>
<rect x="1702.5" y="596.5" width="8" height="14" fill="none" stroke="#fff" stroke-width="1"/>
<rect x="1719" y="594" width="1" height="13" fill="#fff"/>
<rect x="1715" y="596" width="9" height="6" fill="#fff"/>
<rect x="1732" y="572" width="1" height="11" fill="#fff"/>
<rect x="1732" y="602" width="1" height="3" fill="#fff"/>
<rect x="1728.5" y="583.5" width="8" height="18" fill="none" stroke="#fff" stroke-width="1"/>
<rect x="1745" y="580" width="1" height="43" fill="#fff"/>
<rect x="1741" y="583" width="9" height="17" fill="#fff"/>
<rect x="1758" y="597" width="1" height="84" fill="#fff"/>
<rect x="1754" y="599" width="9" height="44" fill="#fff"/>
<rect x="1771" y="619" width="1" height="8" fill="#fff"/>
<rect x="1771" y="643" width="1" height="10" fill="#fff"/>
<rect x="1767.5" y="627.5" width="8" height="15" fill="none" stroke="#fff" stroke-width="1"/>
<rect x="1784" y="627" width="1" height="21" fill="#fff"/>
<rect x="1780" y="627" width="9" height="6" fill="#fff"/>
<rect x="1797" y="632" width="1" height="78" fill="#fff"/>
<rect x="1793" y="632" width="9" height="78" fill="#fff"/>
<rect x="1810" y="704" width="1" height="1" fill="#fff"/>
<rect x="1806.5" y="705.5" width="8" height="4" fill="none" stroke="#fff" stroke-width="1"/>
</svg>
</div>

<!-- price axis labels -->
<div class="pl" style="top:12px">0.68600</div>
<div class="pl" style="top:85px">0.68400</div>
<div class="pl" style="top:159px">0.68200</div>
<div class="pl" style="top:232px">0.68000</div>
<div class="pl" style="top:306px">0.67800</div>
<div class="pl" style="top:379px">0.67600</div>
<div class="pl" style="top:453px">0.67400</div>
<div class="pl" style="top:526px">0.67200</div>
<div class="pl" style="top:599px">0.67000</div>
<div class="pl" style="top:673px">0.66800</div>
<div class="pl" style="top:746px">0.66600</div>
<div class="pl" style="top:820px">0.66400</div>
<div class="pl" style="top:893px">0.66200</div>
<div class="pl" style="top:967px">0.66000</div>

<!-- current price dotted line -->
<div class="abs" style="left:0;top:705px;width:1845px;height:1px;background:repeating-linear-gradient(90deg,#d8dae0 0,#d8dae0 1px,transparent 1px,transparent 3px);"></div>

<!-- current price label -->
<div class="abs" style="left:1845px;top:695px;width:70px;height:39px;background:#fff;border-radius:0 2px 2px 0;"></div>
<div class="abs" style="left:1855px;top:697px;font-size:14.6px;line-height:16px;color:#131722;">0.66734</div>
<div class="abs" style="left:1855px;top:715px;font-size:14.6px;line-height:16px;color:#5d606b;">58:55</div>

<!-- volume label -->
<div class="abs" style="left:1845px;top:971px;width:40px;height:21px;background:#26a69a;border-radius:0 2px 2px 0;"></div>
<div class="abs" style="left:1853px;top:974px;font-size:14.6px;line-height:16px;color:#fff;">222</div>

<!-- lightning icon -->
<svg class="abs" style="left:1795px;top:960px" width="32" height="32" viewBox="-16 -16 32 32">
<circle cx="-0.5" cy="-0.45" r="13.9" fill="#131722"/>
<circle cx="-0.5" cy="-0.45" r="12.6" fill="#141320" stroke="#b850d2" stroke-width="1.6"/>
<path transform="translate(-0.5,-0.45)" d="M4.6 -6.8 L-6.1 1.1 L1.0 0.7 L-4.1 6.9 L6.4 -1.1 L-0.7 -0.75 Z" fill="#b850d2"/>
</svg>

<!-- header -->
<div class="abs" style="left:11px;top:9px;font-size:19.6px;line-height:24px;color:#d1d4dc;-webkit-text-stroke:0.3px #d1d4dc;">Australian Dollar / U.S. Dollar <b>&middot;</b> 1h <b>&middot;</b> FXCM</div>
<div class="abs" style="left:397px;top:9px;width:50px;height:22px;border-radius:11px;overflow:hidden;">
 <div class="abs" style="left:0;top:0;width:25px;height:22px;background:#1c3a3d;"></div>
 <div class="abs" style="left:25px;top:0;width:25px;height:22px;background:#6b1c45;"></div>
 <div class="abs" style="left:9px;top:6px;width:10px;height:10px;border-radius:5px;background:#0fa68a;"></div>
 <div class="abs" style="left:29px;top:0px;font-size:21px;line-height:22px;color:#f2246e;font-weight:bold;">&asymp;</div>
</div>
<div class="abs oh" style="left:467px"><span class="ol">O</span>0.66724</div>
<div class="abs oh" style="left:544px"><span class="ol">H</span>0.66738</div>
<div class="abs oh" style="left:620.5px"><span class="ol">L</span>0.66724</div>
<div class="abs oh" style="left:694.3px"><span class="ol">C</span>0.66734</div>
<div class="abs oh" style="left:770px;letter-spacing:-0.1px">+0.00010</div>
<div class="abs oh" style="left:841px;letter-spacing:-0.25px">(+0.01%)</div>

<!-- bid/ask -->
<div class="abs" style="left:10px;top:40px;width:73px;height:28px;border:1px solid #f23645;border-radius:4px;box-sizing:content-box;background:#131722;"></div>
<div class="abs" style="left:20px;top:46px;font-size:15.4px;line-height:18px;color:#f23645;">0.6673<span class="sup">3</span></div>
<div class="abs" style="left:95px;top:46px;font-size:14.6px;line-height:18px;color:#d1d4dc;">0.3</div>
<div class="abs" style="left:125px;top:40px;width:73px;height:28px;border:1px solid #2962ff;border-radius:4px;box-sizing:content-box;background:#131722;"></div>
<div class="abs" style="left:134px;top:46px;font-size:15.4px;line-height:18px;color:#2962ff;">0.6673<span class="sup">6</span></div>

<!-- Vol -->
<div class="abs" style="left:11px;top:82px;font-size:15.2px;line-height:18px;color:#d1d4dc;">Vol</div>
<div class="abs" style="left:50.5px;top:82px;font-size:15.2px;line-height:18px;color:#26a69a;">222</div>

<!-- TradingView logo -->
<svg class="abs" style="left:10px;top:950px" width="214" height="36" viewBox="0 0 214 36">
 <g fill="#d5d8e0" stroke="#1b1820" stroke-width="5" stroke-linejoin="round" paint-order="stroke">
  <path d="M19 24H12V13H5V6h14v18z"/>
  <path d="M33 24h-8l7.5-18h8L33 24z"/>
  <circle cx="25" cy="10" r="4"/>
  <text x="50.5" y="24" font-family="Liberation Sans, sans-serif" font-weight="bold" font-size="25.4" textLength="152" lengthAdjust="spacingAndGlyphs">TradingView</text>
 </g>
</svg>

<!-- time axis -->
<div class="abs" style="left:0;top:992px;width:1920px;height:1px;background:#2a2e39;"></div>
<div class="abs" style="left:0;top:993px;width:1920px;height:33px;background:#131722;"></div>
<div class="tl" style="left:85.5px">9</div>
<div class="tl" style="left:241.5px">12:00</div>
<div class="tl" style="left:396.5px">10</div>
<div class="tl" style="left:552.5px">12:00</div>
<div class="tl" style="left:708.5px">11</div>
<div class="tl" style="left:863.5px">12:00</div>
<div class="tl" style="left:1019.5px">12</div>
<div class="tl" style="left:1174.5px">12:00</div>
<div class="tl" style="left:1278.5px">20:00</div>
<div class="tl" style="left:1382.5px;font-weight:bold;color:#d1d4dc;">15</div>
<div class="tl" style="left:1486.5px">12:00</div>
<div class="tl" style="left:1641.5px">16</div>
<div class="tl" style="left:1797.5px">12:00</div>
<svg class="abs" style="left:1872px;top:999px" width="22" height="22" viewBox="0 0 22 22" fill="none" stroke="#d1d4dc" stroke-width="1.3">
 <path d="M6.8 3.55h8.4l4.2 7.27-4.2 7.27h-8.4L2.6 10.82z" stroke-linejoin="round"/>
 <circle cx="11" cy="10.82" r="2.5"/>
</svg>

<!-- bottom toolbar -->
<div class="abs" style="left:0;top:1026px;width:1920px;height:1px;background:#2a2e39;"></div>
<div class="abs" style="left:0;top:1027px;width:1920px;height:48px;background:#131722;"></div>
<div class="abs" style="left:0;top:1075px;width:1920px;height:5px;background:#2a2e39;"></div>
<div class="tb tbl" style="left:20px">1D</div>
<div class="tb tbl" style="left:57px">5D</div>
<div class="tb tbl" style="left:95px">1M</div>
<div class="tb tbl" style="left:134px">3M</div>
<div class="tb tbl" style="left:173px">6M</div>
<div class="tb tbl" style="left:212px">YTD</div>
<div class="tb tbl" style="left:261px">1Y</div>
<div class="tb tbl" style="left:297px">5Y</div>
<div class="tb" style="left:334px">All</div>
<div class="abs" style="left:375px;top:1037px;width:1px;height:28px;background:#434651;"></div>
<svg class="abs" style="left:394px;top:1038px" width="26" height="26" viewBox="0 0 26 26" fill="none" stroke="#d1d4dc" stroke-width="1.3">
 <path d="M3.5 11V7.5a2 2 0 0 1 2-2h15a2 2 0 0 1 2 2v12a2 2 0 0 1-2 2H17"/>
 <path d="M3.5 9.5h19"/>
 <path d="M8.5 3.5v3.5M17.5 3.5v3.5"/>
 <path d="M3 17h9.5M9.5 13.5l3.5 3.5-3.5 3.5"/>
</svg>
<div class="tb" style="left:1623px">13:01:05 (UTC+7)</div>
<div class="abs" style="left:1779px;top:1037px;width:1px;height:28px;background:#434651;"></div>
<div class="tb" style="left:1795px;font-size:19px;">%</div>
<div class="tb" style="left:1830.5px;letter-spacing:0.2px">log</div>
<div class="tb" style="left:1871px;letter-spacing:0.35px">auto</div>
</div>
</body>
</html>
